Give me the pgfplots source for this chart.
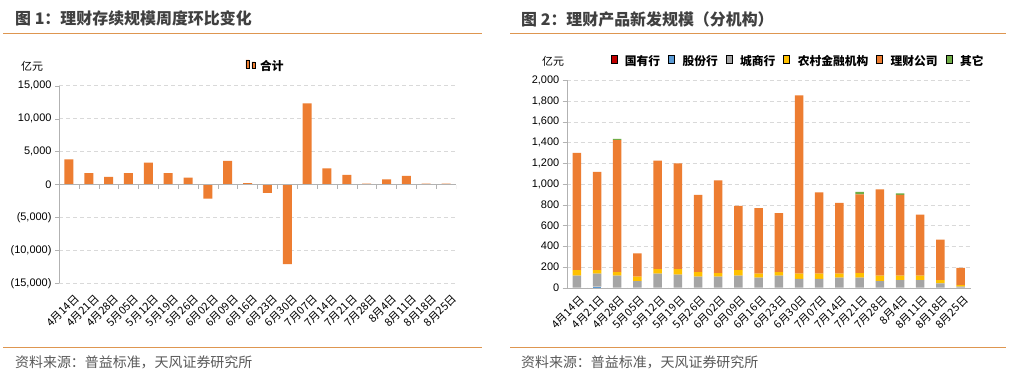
\documentclass[border=0pt]{standalone}
\usepackage{pgfplots}
\pgfplotsset{compat=1.18}
\usepackage{fontspec}
\setmainfont{Liberation Sans}
\newfontfamily\cjk{Noto Sans CJK SC}
\definecolor{cOr}{RGB}{237,125,49}
\definecolor{cGr}{RGB}{165,165,165}
\definecolor{cYe}{RGB}{255,192,0}
\definecolor{cBl}{RGB}{91,155,213}
\definecolor{cRe}{RGB}{192,0,0}
\definecolor{cGn}{RGB}{112,173,71}
\definecolor{cLine}{RGB}{222,150,80}
\definecolor{cTitle}{RGB}{64,64,64}
\definecolor{cSrc}{RGB}{89,89,89}
\pgfplotsset{
  common/.style={
    scale only axis,
    xmin=-0.5, xmax=19.5,
    xtick={0,...,19},
    xticklabels={4月14日,4月21日,4月28日,5月05日,5月12日,5月19日,5月26日,6月02日,6月09日,6月16日,6月23日,6月30日,7月07日,7月14日,7月21日,7月28日,8月4日,8月11日,8月18日,8月25日},
    xticklabel style={rotate=45, anchor=north east, inner sep=0.5pt, font=\cjk\fontsize{11}{12}\selectfont, text=black},
    xtick style={draw=none},
    axis x line*=bottom, axis y line*=left,
    y axis line style={draw=gray!60, -},
    ytick style={draw=gray!60},
    tick align=outside, major tick length=4bp,
    scaled y ticks=false,
    yticklabel style={font=\fontsize{11}{13}\selectfont, text=black},
    ymajorgrids, grid style={dash pattern=on 4bp off 3bp, gray!30},
    legend image code/.code={\fill[##1] (0bp,-3bp) rectangle (6.5bp,3.5bp);},
    legend style={draw=none, fill=none, font=\cjk\bfseries\fontsize{11.8}{13}\selectfont, column sep=3bp, inner sep=0pt, nodes={inner sep=2pt}},
  }
}
\begin{document}
\begin{tikzpicture}[x=1bp,y=1bp]
\path[fill=white] (0,0) rectangle (1011,376);
% separators
\draw[cLine, line width=1bp] (3,342) -- (482,342);
\draw[cLine, line width=1bp] (510,342) -- (1006,342);
\draw[cLine, line width=1bp] (3,29) -- (482,29);
\draw[cLine, line width=1bp] (510,29) -- (1006,29);
% titles
\node[anchor=west, inner sep=0, text=cTitle, font=\cjk\bfseries\fontsize{16}{18}\selectfont] at (15,358) {图 1：理财存续规模周度环比变化};
\node[anchor=west, inner sep=0, text=cTitle, font=\cjk\bfseries\fontsize{16}{18}\selectfont] at (521,357) {图 2：理财产品新发规模（分机构）};
\node[anchor=west, inner sep=0, text=cSrc, font=\cjk\fontsize{14}{16}\selectfont] at (15,14) {资料来源：普益标准，天风证券研究所};
\node[anchor=west, inner sep=0, text=cSrc, font=\cjk\fontsize{14}{16}\selectfont] at (521,14) {资料来源：普益标准，天风证券研究所};
\node[inner sep=0, font=\cjk\fontsize{11}{13}\selectfont] at (32,310) {亿元};
\node[inner sep=0, font=\cjk\fontsize{11}{13}\selectfont] at (553,315) {亿元};
% left chart
\begin{axis}[common,
  at={(59bp,92.7bp)}, anchor=south west, width=397bp, height=197.6bp,
  ymin=-15000, ymax=15000,
  ytick={-15000,-10000,-5000,0,5000,10000,15000},
  yticklabels={{(15,000)},{(10,000)},{(5,000)},0,{5,000},{10,000},{15,000}},
  x axis line style={draw=none},
  xticklabel style={yshift=-7bp},
  legend style={at={(0.47,1.10)}, anchor=west},
  ybar, bar width=9bp,
]
\addplot[fill=cOr, draw=none] coordinates {(0,3800) (1,1720) (2,1160) (3,1720) (4,3340) (5,1720) (6,1060) (7,-2130) (8,3600) (9,200) (10,-1270) (11,-12100) (12,12300) (13,2450) (14,1470) (15,150) (16,760) (17,1320) (18,150) (19,150)};
\addlegendentry{合计}
\draw[gray!60] (axis cs:-0.5,0) -- (axis cs:19.5,0);
\pgfplotsinvokeforeach{0,...,20}{\draw[gray!60] (axis cs:#1-0.5,0) -- ([yshift=-4bp]axis cs:#1-0.5,0);}
\end{axis}
% right chart
\begin{axis}[common,
  at={(566.7bp,88.3bp)}, anchor=south west, width=404bp, height=207.4bp,
  ymin=0, ymax=2000,
  ytick={0,200,...,2000},
  yticklabels={0,200,400,600,800,{1,000},{1,200},{1,400},{1,600},{1,800},{2,000}},
  x axis line style={draw=gray!60,-},
  xticklabel style={yshift=-3bp},
  legend columns=6,
  legend style={at={(0.108,1.093)}, anchor=west, column sep=6bp},
  ybar stacked, bar width=8.5bp,
]
\addplot[fill=cRe, draw=none] coordinates {(0,0) (1,0) (2,0) (3,0) (4,0) (5,0) (6,0) (7,0) (8,0) (9,0) (10,0) (11,0) (12,0) (13,0) (14,0) (15,0) (16,0) (17,0) (18,0) (19,0)};
\addlegendentry{国有行}
\addplot[fill=cBl, draw=none] coordinates {(0,0) (1,10) (2,0) (3,0) (4,0) (5,0) (6,0) (7,0) (8,0) (9,0) (10,0) (11,0) (12,0) (13,0) (14,0) (15,0) (16,0) (17,0) (18,0) (19,0)};
\addlegendentry{股份行}
\addplot[fill=cGr, draw=none] coordinates {(0,116) (1,125) (2,116) (3,64) (4,135) (5,125) (6,106) (7,106) (8,116) (9,96) (10,116) (11,84) (12,84) (13,96) (14,96) (15,64) (16,74) (17,74) (18,42) (19,10)};
\addlegendentry{城商行}
\addplot[fill=cYe, draw=none] coordinates {(0,54) (1,35) (2,35) (3,42) (4,45) (5,55) (6,45) (7,35) (8,54) (9,39) (10,35) (11,51) (12,51) (13,39) (14,45) (15,52) (16,42) (17,42) (18,32) (19,16)};
\addlegendentry{农村金融机构}
\addplot[fill=cOr, draw=none] coordinates {(0,1129) (1,946) (2,1273) (3,225) (4,1045) (5,1019) (6,743) (7,894) (8,618) (9,633) (10,569) (11,1720) (12,785) (13,682) (14,759) (15,833) (16,778) (17,588) (18,389) (19,164)};
\addlegendentry{理财公司}
\addplot[fill=cGn, draw=none] coordinates {(0,0) (1,0) (2,10) (3,0) (4,0) (5,0) (6,0) (7,0) (8,0) (9,0) (10,0) (11,0) (12,0) (13,0) (14,23) (15,0) (16,16) (17,0) (18,0) (19,0)};
\addlegendentry{其它}
\pgfplotsinvokeforeach{0,...,20}{\draw[gray!60] (axis cs:#1-0.5,0) -- ([yshift=-4bp]axis cs:#1-0.5,0);}
\end{axis}
\end{tikzpicture}
\end{document}
